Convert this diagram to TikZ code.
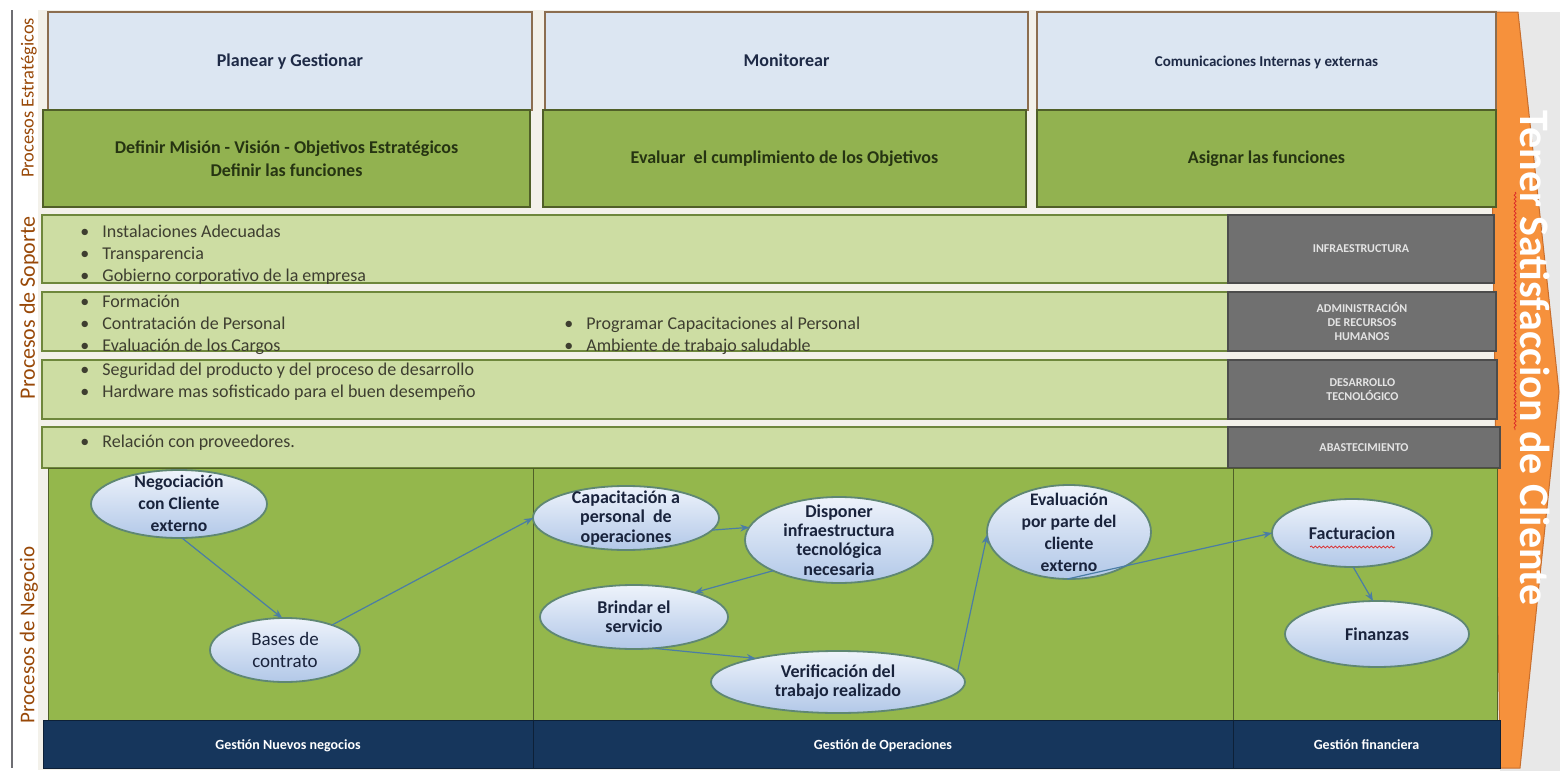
\documentclass[tikz,border=0pt]{standalone}
\usepackage{fontspec}
\setmainfont{Carlito}
\usetikzlibrary{shapes.geometric,arrows.meta,decorations.pathmorphing}

\definecolor{paleblue}{RGB}{220,230,242}
\definecolor{stratgreen}{RGB}{146,178,80}
\definecolor{palegreen}{RGB}{205,221,163}
\definecolor{bizgreen}{RGB}{148,183,76}
\definecolor{slatebar}{RGB}{112,112,112}
\definecolor{navybar}{RGB}{22,54,92}
\definecolor{arroworange}{RGB}{246,145,60}
\definecolor{arrowrim}{RGB}{200,110,45}
\definecolor{ovaltop}{RGB}{238,243,251}
\definecolor{ovalbottom}{RGB}{178,200,232}
\definecolor{ovalrim}{RGB}{95,135,115}
\definecolor{flowblue}{RGB}{75,125,165}
\definecolor{labelbrown}{RGB}{152,72,7}
\definecolor{navytext}{RGB}{30,42,70}
\definecolor{olivetext}{RGB}{38,52,18}
\definecolor{bullettext}{RGB}{62,62,48}
\definecolor{boxbrown}{RGB}{140,110,80}
\definecolor{olivedark}{RGB}{80,95,40}
\definecolor{olivemid}{RGB}{110,135,60}
\definecolor{canvasbeige}{RGB}{243,241,234}
\definecolor{sidegray}{RGB}{232,232,232}
\definecolor{spellred}{RGB}{220,40,40}
\definecolor{axisgray}{RGB}{110,110,115}
\definecolor{captiongray}{RGB}{228,228,228}
\definecolor{ovalink}{RGB}{25,35,60}

% rectangle node from its corner coordinates: name, x1, y1, x2, y2, style, text
\newcommand{\boxnode}[7]{%
  \node[#6, minimum width={(#4-(#2))*0.5pt}, minimum height={(#5-(#3))*0.5pt}]
    (#1) at ({(#2+#4)/2},{(#3+#5)/2}) {#7};}
% bullet item for the support rows
\newcommand{\bl}[1]{\makebox[11pt][l]{\textbullet}#1}

\begin{document}
\begin{tikzpicture}[x=0.5pt,y=-0.5pt,
  pane/.style={draw, inner sep=0pt, outer sep=0pt},
  oneline/.style={text height=1.6ex, text depth=0.45ex},
  planbox/.style={pane, oneline, fill=paleblue, draw=boxbrown, line width=0.6pt,
    text=navytext, font=\bfseries\fontsize{9}{11}\selectfont},
  goalbox/.style={pane, fill=stratgreen, draw=olivedark, line width=0.6pt,
    text=olivetext, align=center, font=\bfseries\fontsize{9}{11.5}\selectfont},
  suprow/.style={pane, fill=palegreen, draw=olivemid, line width=0.6pt},
  supbar/.style={pane, fill=slatebar, draw=black!70, line width=0.6pt,
    text=captiongray, align=center, font=\bfseries\fontsize{6}{7}\selectfont},
  lane/.style={pane, fill=bizgreen, draw=olivedark, line width=0.5pt},
  footbar/.style={pane, oneline, fill=navybar, draw=navybar!60!black, line width=0.5pt,
    text=white, font=\bfseries\fontsize{7}{8}\selectfont},
  stepoval/.style={ellipse, draw=ovalrim, line width=0.9pt,
    top color=ovaltop, bottom color=ovalbottom, inner sep=0pt, outer sep=0pt},
  ovaltext/.style={text=ovalink, align=center, inner sep=0pt,
    font=\bfseries\fontsize{9}{9.6}\selectfont},
  widetext/.style={ovaltext, font=\bfseries\fontsize{8.8}{11}\selectfont},
  flow/.style={draw=flowblue, line width=0.6pt, -{Stealth[length=4.5pt,width=3.5pt]}},
  sidelabel/.style={rotate=90, text=labelbrown, inner sep=0pt},
  bullets/.style={anchor=west, align=left, text=bullettext, inner sep=0pt,
    font=\fontsize{9}{11}\selectfont},
  spell/.style={draw=spellred, line width=0.35pt, decorate,
    decoration={snake, amplitude=0.5pt, segment length=2pt}}
]
\useasboundingbox (0,0) rectangle (1560,771);

% canvas
\fill[canvasbeige] (38,10) rectangle (1500,770);
\fill[sidegray] (1500,12) rectangle (1560,771);

% goal arrow on the right
\filldraw[fill=arroworange, draw=arrowrim, line width=0.5pt]
  (1490,12) -- (1518,12) -- (1559,392) -- (1520,768) -- (1500,768) -- cycle;

% left axis
\draw[axisgray, line width=1pt] (12,10) -- (12,768);

% strategic processes
\boxnode{plan}{48}{12}{532}{110}{planbox}{Planear y Gestionar}
\boxnode{goalA}{43}{110}{530}{207}{goalbox}{Definir Misión - Visión - Objetivos Estratégicos\\Definir las funciones}
\boxnode{monitor}{545}{12}{1028}{110}{planbox}{Monitorear}
\boxnode{goalB}{543}{110}{1026}{207}{goalbox}{Evaluar\ \ el cumplimiento de los Objetivos}
\boxnode{comms}{1037}{12}{1496}{110}{planbox, font=\bfseries\fontsize{7.5}{9}\selectfont}{Comunicaciones Internas y externas}
\boxnode{goalC}{1037}{110}{1496}{207}{goalbox}{Asignar las funciones}

% support processes
\boxnode{rowA}{42}{215}{1228}{283}{suprow}{}
\boxnode{infra}{1228}{215}{1494}{283}{supbar}{INFRAESTRUCTURA}
\boxnode{rowB}{42}{292}{1228}{351}{suprow}{}
\boxnode{hr}{1228}{292}{1496}{351}{supbar}{ADMINISTRACIÓN\\DE RECURSOS\\HUMANOS}
\boxnode{rowC}{42}{360}{1228}{419}{suprow}{}
\boxnode{tech}{1228}{360}{1497}{419}{supbar}{DESARROLLO\\TECNOLÓGICO}
\boxnode{rowD}{42}{427}{1228}{468}{suprow}{}
\boxnode{supply}{1228}{427}{1500}{468}{supbar}{ABASTECIMIENTO}

\node[bullets] (itemsA) at (80,255) {\bl{Instalaciones Adecuadas}\\\bl{Transparencia}\\\bl{Gobierno corporativo de la empresa}};
\node[bullets] (itemsB) at (80,325) {\bl{Formación}\\\bl{Contratación de Personal}\\\bl{Evaluación de los Cargos}};
\node[bullets] (itemsB2) at (564,336) {\bl{Programar Capacitaciones al Personal}\\\bl{Ambiente de trabajo saludable}};
\node[bullets] (itemsC) at (80,382) {\bl{Seguridad del producto y del proceso de desarrollo}\\\bl{Hardware mas sofisticado para el buen desempeño}};
\node[bullets] (itemsD) at (80,443) {\bl{Relación con proveedores.}};

% business processes
\boxnode{laneNew}{48}{468}{533}{720}{lane}{}
\boxnode{laneOps}{533}{468}{1233}{720}{lane}{}
\boxnode{laneFin}{1233}{468}{1497}{720}{lane}{}
\boxnode{footNew}{43}{720}{533}{768}{footbar}{Gestión Nuevos negocios}
\boxnode{footOps}{533}{720}{1233}{768}{footbar}{Gestión de Operaciones}
\boxnode{footFin}{1233}{720}{1500}{768}{footbar}{Gestión financiera}

% side labels
\node[sidelabel, font=\fontsize{9.2}{10}\selectfont] (lblStrat) at (29,98) {Procesos Estratégicos};
\node[sidelabel, font=\fontsize{11}{12}\selectfont] (lblSup) at (29,308) {Procesos de Soporte};
\node[sidelabel, font=\fontsize{10.5}{12}\selectfont] (lblBiz) at (29,635) {Procesos de Negocio};

% process steps
\node[stepoval, minimum width=88pt, minimum height=34pt] (neg) at (179,504) {};
\node[widetext] at (179,503) {Negociación\\con Cliente\\externo};
\node[stepoval, minimum width=75pt, minimum height=32pt] (bases) at (285,650) {};
\node[ovaltext, font=\fontsize{9.5}{11}\selectfont] at (285,650) {Bases de\\contrato};
\node[stepoval, minimum width=93pt, minimum height=32pt] (cap) at (626,518) {};
\node[ovaltext] at (626,518) {Capacitación a\\personal\ \ de\\operaciones};
\node[stepoval, minimum width=94pt, minimum height=43pt] (disp) at (839,540) {};
\node[ovaltext] at (839,540) {Disponer\\infraestructura\\tecnológica\\necesaria};
\node[stepoval, minimum width=94pt, minimum height=32pt] (brin) at (634,617) {};
\node[ovaltext] at (634,617) {Brindar el\\servicio};
\node[stepoval, minimum width=127pt, minimum height=31pt] (verif) at (838,682) {};
\node[ovaltext] at (838,682) {Verificación del\\trabajo realizado};
\node[stepoval, minimum width=82pt, minimum height=47pt] (eval) at (1069,532) {};
\node[widetext] at (1069,532) {Evaluación\\por parte del\\cliente\\externo};
\node[stepoval, minimum width=80pt, minimum height=34pt] (fact) at (1352,533) {};
\node[ovaltext] (factText) at (1352,533) {Facturacion};
\node[stepoval, minimum width=92pt, minimum height=33pt] (fin) at (1377,634) {};
\node[ovaltext] at (1377,634) {Finanzas};
\draw[spell] (1310,547) -- (1395,547);

% flow between steps
\draw[flow] (neg.-85) -- (bases.95);
\draw[flow] (bases.28) -- (cap.180);
\draw[flow] (cap.-8) -- (disp.172);
\draw[flow] (disp.205) -- (brin.22);
\draw[flow] (brin.-58) -- (verif.164);
\draw[flow] (verif.5) -- (eval.182);
\draw[flow] (eval.-92) -- (fact.180);
\draw[flow] (fact.-88) -- (fin.97);

% goal caption
\node[rotate=-90, text=white, font=\bfseries\fontsize{21}{24}\selectfont, inner sep=0pt] (goal) at (1535,358) {Tener Satisfaccion de Cliente};
\draw[spell] (1515,192) -- (1515,430);
\end{tikzpicture}
\end{document}
